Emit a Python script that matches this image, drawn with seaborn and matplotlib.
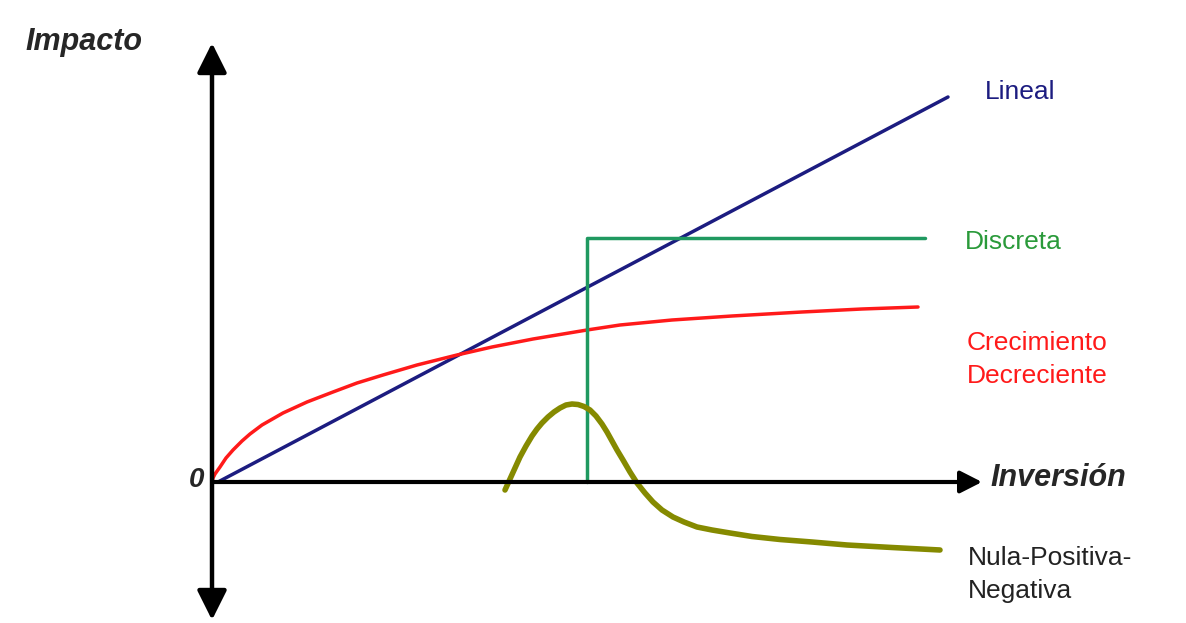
import numpy as np
import pandas as pd
import matplotlib
matplotlib.use("Agg")
import matplotlib.pyplot as plt
import seaborn as sns

sns.set_style("white")
plt.rcParams['font.family'] = ['Liberation Sans', 'DejaVu Sans']

# Data (units, origin at the axes crossing)
lineal_x = [0.06, 7.36]
lineal_y = [0.0, 3.85]

discreta_x = [3.75, 3.75, 7.13]
discreta_y = [0.0, 2.44, 2.44]

crec_x = [0.0, 0.01, 0.03, 0.08, 0.14, 0.21, 0.3, 0.38, 0.5, 0.71, 0.95, 1.21, 1.45, 1.71,
          2.05, 2.45, 2.8, 3.21, 3.75, 4.08, 4.6, 5.2, 5.9, 6.5, 7.06]
crec_y = [0.0, 0.04, 0.08, 0.15, 0.24, 0.32, 0.41, 0.48, 0.57, 0.69, 0.80, 0.90, 0.99, 1.07,
          1.17, 1.27, 1.35, 1.43, 1.52, 1.57, 1.62, 1.66, 1.70, 1.73, 1.75]

nula_x = [2.93, 2.98, 3.03, 3.08, 3.14, 3.20, 3.25, 3.30, 3.36, 3.42, 3.48, 3.54, 3.60, 3.66,
          3.72, 3.78, 3.84, 3.90, 3.95, 4.00, 4.05, 4.11, 4.18, 4.25, 4.33, 4.41, 4.50, 4.61,
          4.72, 4.85, 5.00, 5.18, 5.40, 5.68, 6.00, 6.35, 6.80, 7.28]
nula_y = [-0.08, 0.03, 0.14, 0.25, 0.36, 0.46, 0.53, 0.59, 0.65, 0.70, 0.74, 0.77, 0.78, 0.775,
          0.755, 0.72, 0.66, 0.58, 0.50, 0.41, 0.32, 0.22, 0.10, -0.01, -0.11, -0.20, -0.28, -0.35,
          -0.40, -0.45, -0.48, -0.51, -0.545, -0.575, -0.60, -0.63, -0.655, -0.68]

fig = plt.figure(figsize=(11.86, 6.23), dpi=100)
ax = fig.add_axes([0, 0, 1, 1])
ax.set_xlim(-2.12, 9.74)
ax.set_ylim(-1.41, 4.82)
ax.axis('off')

# axes with arrows
ax.annotate('', xy=(0, 4.39), xytext=(0, -1.38),
            arrowprops=dict(arrowstyle='<|-|>,head_length=0.5,head_width=0.25', color='black',
                            lw=3.2, mutation_scale=36, shrinkA=0, shrinkB=0))
ax.annotate('', xy=(7.70, 0), xytext=(0, 0),
            arrowprops=dict(arrowstyle='-|>,head_length=0.55,head_width=0.28', color='black',
                            lw=3, mutation_scale=24, shrinkA=0, shrinkB=0))

sns.lineplot(x=lineal_x, y=lineal_y, ax=ax, color='#1c1c80', lw=2.5, estimator=None, sort=False)
sns.lineplot(x=crec_x, y=crec_y, ax=ax, color='#ff1a1a', lw=2.5, estimator=None, sort=False,
             solid_joinstyle='round')
sns.lineplot(x=discreta_x, y=discreta_y, ax=ax, color='#1f9960', lw=2.5, estimator=None, sort=False)
sns.lineplot(x=nula_x, y=nula_y, ax=ax, color='#858a00', lw=4, estimator=None, sort=False,
             solid_joinstyle='round', solid_capstyle='round')

# labels
ax.text(-1.87, 4.40, 'Impacto', fontsize=22, fontweight='bold', fontstyle='italic', va='center', ha='left')
ax.text(7.78, 0.04, 'Inversión', fontsize=22, fontweight='bold', fontstyle='italic', va='center', ha='left')
ax.text(-0.08, 0.02, '0', fontsize=20, fontweight='bold', fontstyle='italic', va='center', ha='right')
ax.text(7.73, 3.90, 'Lineal', fontsize=19, color='#1c1c80', va='center', ha='left')
ax.text(7.53, 2.40, 'Discreta', fontsize=19, color='#2a9a3a', va='center', ha='left')
ax.text(7.55, 1.225, 'Crecimiento\nDecreciente', fontsize=19, color='#ff1a1a', va='center', ha='left',
        linespacing=1.5)
ax.text(7.56, -0.925, 'Nula-Positiva-\nNegativa', fontsize=19, color='#222222', va='center', ha='left',
        linespacing=1.5)

plt.savefig('out.png', dpi=100)
